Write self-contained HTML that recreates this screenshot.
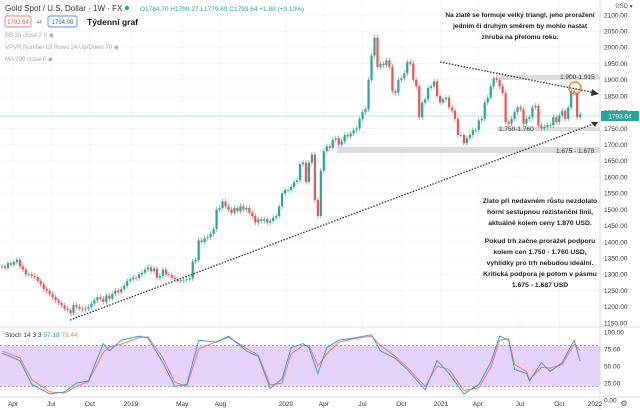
<!DOCTYPE html>
<html><head><meta charset="utf-8"><style>
body{margin:0;width:640px;height:410px;overflow:hidden;background:#fff;font-family:"Liberation Sans",sans-serif}
svg{display:block}
</style></head><body>
<svg id="c" width="640" height="410" xmlns="http://www.w3.org/2000/svg" font-family="Liberation Sans, sans-serif">
<g id="grid"></g>
<g id="bands">
<rect x="500" y="75" width="100" height="5" fill="#dcdcdc"/>
<rect x="497" y="127" width="103" height="4" fill="#dcdcdc"/>
<rect x="337" y="147" width="263" height="6" fill="#dcdcdc"/>
</g>
<line x1="0" y1="116" x2="600" y2="116" stroke="#26a69a" stroke-width="0.6" opacity="0.6"/>
<g id="candles"></g>
<g>
<line x1="70" y1="320" x2="596" y2="123" stroke="#333" stroke-width="1.3" stroke-dasharray="1.5,1.5"/>
<polygon points="598,122 591,122 595,127" fill="#333"/>
<line x1="440" y1="62" x2="596" y2="93" stroke="#333" stroke-width="1.3" stroke-dasharray="1.5,1.5"/>
<polygon points="599,94 592,89 591,96" fill="#333"/>
<circle cx="575" cy="88" r="6" fill="none" stroke="#ff6d00" stroke-width="1.2"/>
</g>
<g font-size="6.5" fill="#333">
<text x="560" y="79">1.900-1.915</text>
<text x="499" y="131">1.750-1.760</text>
<text x="556" y="153">1.675 - 1.678</text>
</g>
<g font-size="6.6" font-weight="bold" fill="#222" text-anchor="middle">
<text x="520" y="17">Na zlatě se formuje velký triangl, jeho proražení</text>
<text x="520" y="28">jedním či druhým směrem by mohlo nastat</text>
<text x="520" y="39">zhruba na přelomu roku.</text>
</g>
<g font-size="6.8" font-weight="bold" fill="#222" text-anchor="middle">
<text x="540" y="203">Zlato při nedávném růstu nezdolalo</text>
<text x="540" y="214">horní sestupnou rezistenční linii,</text>
<text x="540" y="225">aktuálně kolem ceny 1.870 USD.</text>
<text x="540" y="243">Pokud trh začne prorážet podporu</text>
<text x="540" y="254">kolem cen 1.750 - 1.760 USD,</text>
<text x="540" y="265">vyhlídky pro trh nebudou ideální.</text>
<text x="540" y="276">Kritická podpora je potom v pásmu</text>
<text x="540" y="287">1.675 - 1.687 USD</text>
</g>
<rect x="0" y="345.6" width="600" height="40.8" fill="#e6d3fb"/>
<line x1="0" y1="345.6" x2="600" y2="345.6" stroke="#888" stroke-dasharray="2,2" stroke-width="0.7"/>
<line x1="0" y1="386.4" x2="600" y2="386.4" stroke="#888" stroke-dasharray="2,2" stroke-width="0.7"/>
<g id="stoch"></g>
<line x1="0" y1="327" x2="640" y2="327" stroke="#ddd"/>
<line x1="600" y1="0" x2="600" y2="410" stroke="#ddd"/>
<line x1="0" y1="397" x2="640" y2="397" stroke="#ddd"/>
<g id="yaxis" font-size="6.5" fill="#333"></g>
<g id="xaxis" font-size="6.5" fill="#333" text-anchor="middle"></g>
<rect x="601" y="111" width="38" height="10" fill="#26a69a"/>
<text x="620" y="118.5" font-size="6.5" fill="#fff" text-anchor="middle">1793.64</text>
<text x="624" y="8" font-size="6" fill="#555" text-anchor="middle">USD ▾</text>
<text x="624" y="406" font-size="8" fill="#555" text-anchor="middle">⚙</text>
<g>
<text x="5" y="11" font-size="8" fill="#333">Gold Spot / U.S. Dollar · 1W · FX</text>
<circle cx="127" cy="8" r="2.2" fill="#26a69a"/>
<text x="140" y="11" font-size="6.5" fill="#26a69a">O1784.70 H1799.27 L1779.69 C1793.64 +1.88 (+0.10%)</text>
<rect x="5" y="16" width="26" height="11" rx="2" fill="#fff" stroke="#ef5350" stroke-width="0.7"/>
<text x="18" y="24" font-size="6" fill="#ef5350" text-anchor="middle">1793.64</text>
<text x="39" y="24" font-size="5" fill="#777" text-anchor="middle">44</text>
<rect x="48" y="16" width="29" height="11" rx="2" fill="#fff" stroke="#2962ff" stroke-width="0.7"/>
<text x="62.5" y="24" font-size="6" fill="#2962ff" text-anchor="middle">1794.08</text>
<text x="87" y="25" font-size="8.5" font-weight="bold" fill="#111">Týdenní graf</text>
<text x="5" y="37" font-size="6" fill="#aaa">BB 20 close 2 0 ◉</text>
<text x="5" y="49" font-size="6" fill="#aaa">VPVR Number Of Rows 24 Up/Down 70 ◉</text>
<text x="5" y="61" font-size="6" fill="#aaa">MA 200 close 0 ◉</text>
<text x="5" y="337" font-size="6.5" fill="#333">Stoch 14 3 3 <tspan fill="#2196f3">57.18</tspan> <tspan fill="#ff7043">73.44</tspan></text>
</g>
</svg>
<script>
const closes=[1325,1320,1335,1330,1338,1345,1325,1315,1300,1300,
1295,1292,1280,1270,1255,1250,1240,1230,1220,1212,
1205,1195,1190,1180,1205,1200,1195,1192,1195,1200,
1210,1220,1230,1225,1215,1235,1225,1240,1250,1245,
1255,1265,1280,1285,1290,1288,1300,1305,1315,1322,
1310,1318,1290,1295,1315,1300,1298,1290,1285,1280,
1282,1283,1285,1288,1340,1345,1405,1400,1412,1415,
1425,1440,1500,1505,1525,1510,1500,1490,1505,1495,
1510,1500,1505,1490,1480,1460,1470,1465,1470,1460,
1465,1475,1480,1510,1550,1560,1560,1570,1585,1590,
1640,1645,1585,1645,1670,1530,1480,1620,1680,1695,
1690,1715,1720,1700,1710,1730,1725,1735,1745,1750,
1780,1800,1810,1900,1975,2030,1940,1950,1945,1960,
1940,1865,1860,1900,1905,1920,1955,1950,1900,1880,
1785,1830,1840,1875,1880,1895,1850,1830,1840,1845,
1815,1805,1780,1730,1730,1705,1720,1730,1745,1745,
1775,1780,1830,1845,1880,1905,1900,1880,1860,1770,
1765,1780,1800,1815,1810,1765,1780,1785,1815,1820,
1760,1750,1755,1760,1760,1785,1770,1790,1805,1780,
1815,1865,1860,1785,1793.64];
const firstOpen=1322;
const priceTicks=[2100,2050,2000,1950,1900,1850,1800,1750,1700,1650,1600,1550,1500,1450,1400,1350,1300,1250,1200,1150];
const stochTicks=[100,75,50,25,0];
const stochWeeks=[0,6,10,16,21,25,29,34,36,40,46,49,54,58,62,66,72,76,82,86,90,94,97,101,103,106,109,113,118,124,127,132,136,142,146,150,155,160,164,167,170,172,176,177,181,184,188,192,194];
const stochK=[69,58,23,9,12,25,28,83,72,88,94,91,55,20,23,88,85,94,72,64,17,31,77,83,77,39,77,88,91,96,72,61,45,15,58,39,9,23,55,94,88,45,39,28,55,42,55,88,57];
const stochD=[72,62,30,12,10,20,27,70,78,82,92,93,62,26,20,75,86,92,76,66,22,25,68,80,80,50,68,85,90,94,80,64,48,20,50,45,14,18,48,88,90,52,42,30,48,47,52,82,73];
const monthLabels=["Apr","Jul","Oct","2019","May","Aug","2020","Apr","Jul","Oct","2021","Apr","Jul","Oct","2022"];
const monthWeeks=[3.7,16.5,29.5,43.3,60.5,73.3,95.3,108,121,134,147.3,159.7,173.8,187,199];

const NS="http://www.w3.org/2000/svg";
const X=i=>2+i*2.98;
const Y=p=>15+(2100-p)*0.3243;
const SY=v=>400-v*0.68;
function mk(t,a,parent){const e=document.createElementNS(NS,t);for(const k in a)e.setAttribute(k,a[k]);parent.appendChild(e);return e;}
const grid=document.getElementById('grid'),ya=document.getElementById('yaxis'),xa=document.getElementById('xaxis');
priceTicks.forEach(p=>{
 const l=mk('line',{x1:0,x2:600,y1:Y(p),y2:Y(p),stroke:'#f0f3f6','stroke-width':0.7},grid);
 
 
 const t=mk('text',{x:604,y:Y(p)+2.3},ya);t.textContent=p.toFixed(2);
 
 
});
stochTicks.forEach(v=>{
 const t=mk('text',{x:604,y:SY(v)+2.3},ya);t.textContent=v.toFixed(2);
 
 
});
monthLabels.forEach((m,i)=>{
 const x=X(monthWeeks[i]);
 const l=mk('line',{x1:x,x2:x,y1:0,y2:397,stroke:'#f0f3f6','stroke-width':0.7},grid);
 
 
 const t=mk('text',{x:x,y:406},xa);t.textContent=m;
 
 
});
const cg=document.getElementById('candles');
closes.forEach((c,i)=>{
 const o=i?closes[i-1]:firstOpen;
 const up=c>=o, col=up?'#26a69a':'#ef5350';
 const hi=Math.max(o,c)+8, lo=Math.min(o,c)-8;
 const w=mk('line',{x1:X(i),x2:X(i),y1:Y(hi),y2:Y(lo),stroke:col,'stroke-width':0.6},cg);
 
 
 const b=mk('rect',{x:X(i)-1.1,width:2.2,y:Y(Math.max(o,c)),height:Math.max(0.7,Math.abs(Y(o)-Y(c))),fill:col},cg);
 
 
});
const sg=document.getElementById('stoch');
function line(arr,col,name){
 const pts=arr.map((v,i)=>X(stochWeeks[i]).toFixed(1)+','+SY(v).toFixed(1)).join(' ');
 const p=mk('polyline',{points:pts,fill:'none',stroke:col,'stroke-width':0.9},sg);
 
 
}
line(stochD,'#ff7043','stoch-d-line');
line(stochK,'#2196f3','stoch-k-line');
</script>
</body></html>
